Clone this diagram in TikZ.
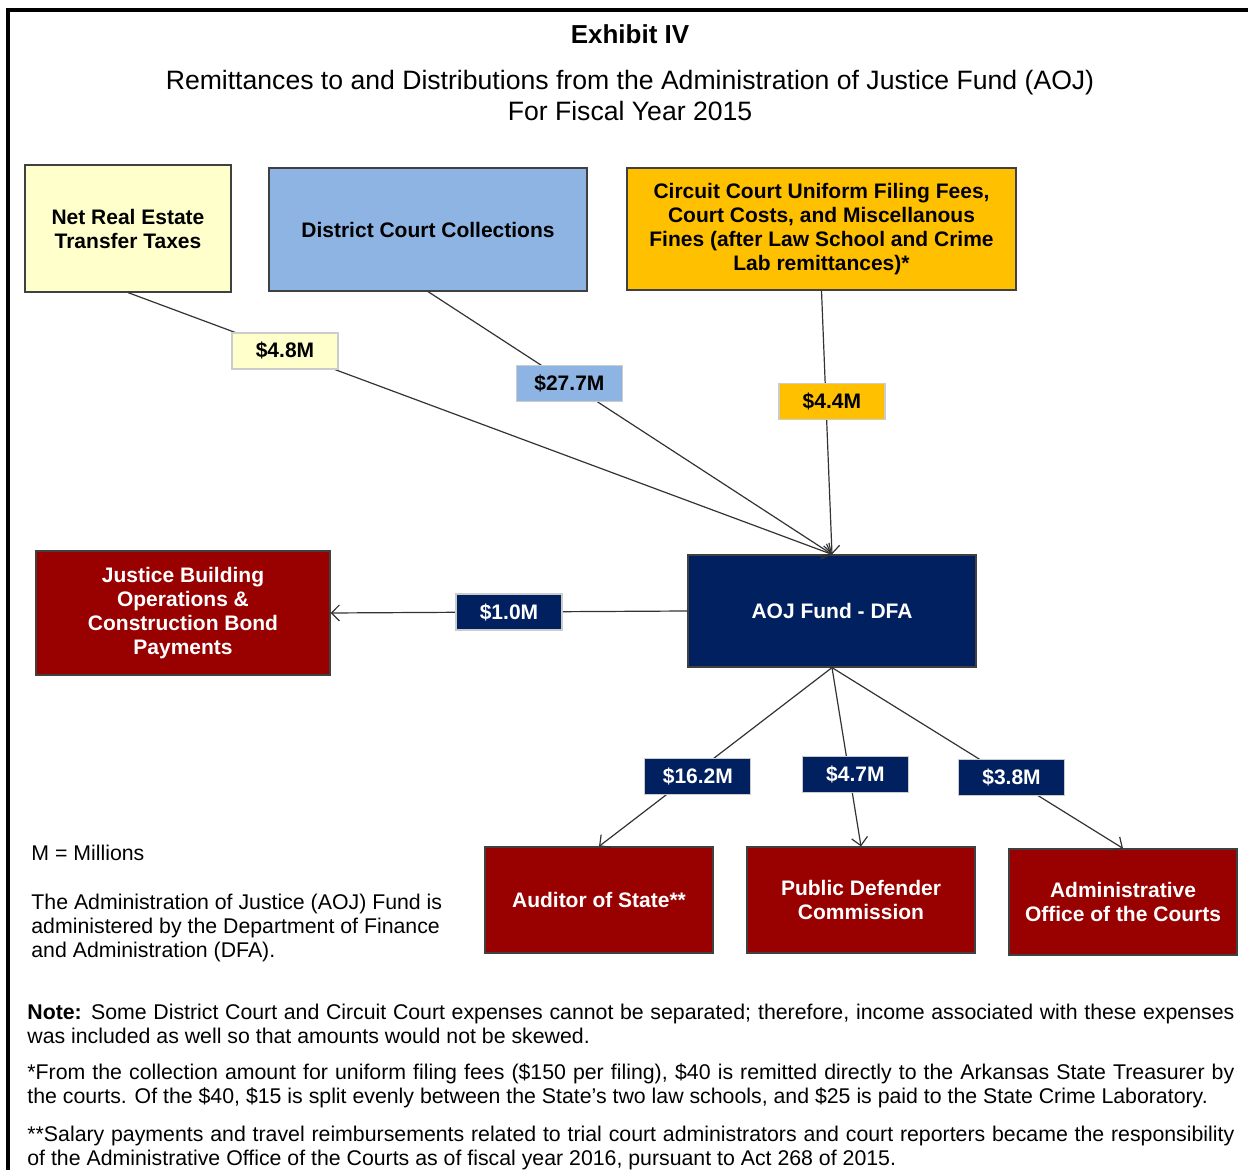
\documentclass[tikz,border=0pt]{standalone}
\usepackage{fontspec}
\setmainfont{Liberation Sans}
\usetikzlibrary{arrows.meta}

\definecolor{paleyellow}{HTML}{FFFFCC}
\definecolor{skyblue}{HTML}{8DB4E2}
\definecolor{amber}{HTML}{FFC000}
\definecolor{aojnavy}{HTML}{002060}
\definecolor{maroon}{HTML}{990000}

\tikzset{
  box/.style={draw=black!75, line width=0.6pt, align=center, inner sep=2pt,
    font=\bfseries\fontsize{10.5}{12}\selectfont},
  payee/.style={box, fill=maroon, text=white, minimum width=114pt, minimum height=53pt},
  amount/.style={draw=black!20, line width=0.6pt, inner sep=0pt,
    minimum width=53pt, minimum height=18pt, font=\bfseries\fontsize{10.5}{12}\selectfont},
  navy/.style={fill=aojnavy, text=white},
  flow/.style={draw=black!80, line width=0.6pt, -{Straight Barb[length=4pt,width=8pt]}},
  note/.style={anchor=north west, inner sep=0pt, text width=603.5pt, align=justify,
    font=\fontsize{10.65}{12}\selectfont}
}

\begin{document}
\begin{tikzpicture}[x=0.5pt,y=-0.5pt]
  \useasboundingbox (0,0) rectangle (1248,1170);
  \draw[line width=1.6pt] (8,1180) -- (8,10) -- (1260,10);

  \node at (630,34) (exhibit) {\bfseries\fontsize{13}{15}\selectfont Exhibit IV};
  \node at (630,95.5) (heading) [align=center, font=\fontsize{13.3}{15.5}\selectfont]
    {Remittances to and Distributions from the Administration of Justice Fund (AOJ)\\For Fiscal Year 2015};

  \node at (128,228.5) (net) [box, fill=paleyellow, minimum width=103pt, minimum height=63.5pt]
    {Net Real Estate\\Transfer Taxes};
  \node at (428,229.5) (dcc) [box, fill=skyblue, minimum width=159pt, minimum height=61.5pt]
    {District Court Collections};
  \node at (821.5,229) (ccf) [box, fill=amber, minimum width=194.5pt, minimum height=61pt]
    {Circuit Court Uniform Filing Fees,\\Court Costs, and Miscellanous\\Fines (after Law School and Crime\\Lab remittances)*};

  \node at (832,611) (aoj) [box, navy, minimum width=144pt, minimum height=56pt] {AOJ Fund - DFA};

  \draw[flow] (net.south) -- node[amount, pos=0.223, fill=paleyellow] {\$4.8M} (aoj.north);
  \draw[flow] (dcc.south) -- node[amount, pos=0.35, fill=skyblue] {\$27.7M} (aoj.north);
  \draw[flow] (ccf.south) -- node[amount, pos=0.42, fill=amber, xshift=3pt] {\$4.4M} (aoj.north);

  \node at (183,613) (jbo) [box, fill=maroon, text=white, minimum width=147pt, minimum height=62pt]
    {Justice Building\\Operations \&\\Construction Bond\\Payments};
  \draw[flow] (aoj.west) -- node[amount, navy] {\$1.0M} (jbo.east);

  \node at (599,900) (aud) [payee] {Auditor of State**};
  \node at (861,900) (pdc) [payee] {Public Defender\\Commission};
  \node at (1123,902) (aoc) [payee] {Administrative\\Office of the Courts};

  \draw[flow] (aoj.south) -- node[amount, navy, pos=0.61, xshift=4pt] {\$16.2M} (aud.north);
  \draw[flow] (aoj.south) -- node[amount, navy, pos=0.6, xshift=3pt] {\$4.7M} (pdc.north);
  \draw[flow] (aoj.south) -- node[amount, navy, pos=0.61, xshift=1pt] {\$3.8M} (aoc.north);

  \node at (31,860) (units) [anchor=base west, inner sep=0pt, font=\fontsize{10.65}{12}\selectfont] {M = Millions};
  \node at (31,894) (about) [anchor=north west, inner sep=0pt, align=left, font=\fontsize{10.65}{12}\selectfont]
    {The Administration of Justice (AOJ) Fund is\\administered by the Department of Finance\\and Administration (DFA).};

  \node at (27,1004) (note1) [note]
    {\textbf{Note:} Some District Court and Circuit Court expenses cannot be separated; therefore, income associated with these expenses\linebreak
    was included as well so that amounts would not be skewed.};
  \node at (27,1063) (note2) [note]
    {*From the collection amount for uniform filing fees (\$150 per filing), \$40 is remitted directly to the Arkansas State Treasurer by\linebreak
    the courts. Of the \$40, \$15 is split evenly between the State's two law schools, and \$25 is paid to the State Crime Laboratory.};
  \node at (27,1126) (note3) [note]
    {**Salary payments and travel reimbursements related to trial court administrators and court reporters became the responsibility\linebreak
    of the Administrative Office of the Courts as of fiscal year 2016, pursuant to Act 268 of 2015.};
\end{tikzpicture}
\end{document}
